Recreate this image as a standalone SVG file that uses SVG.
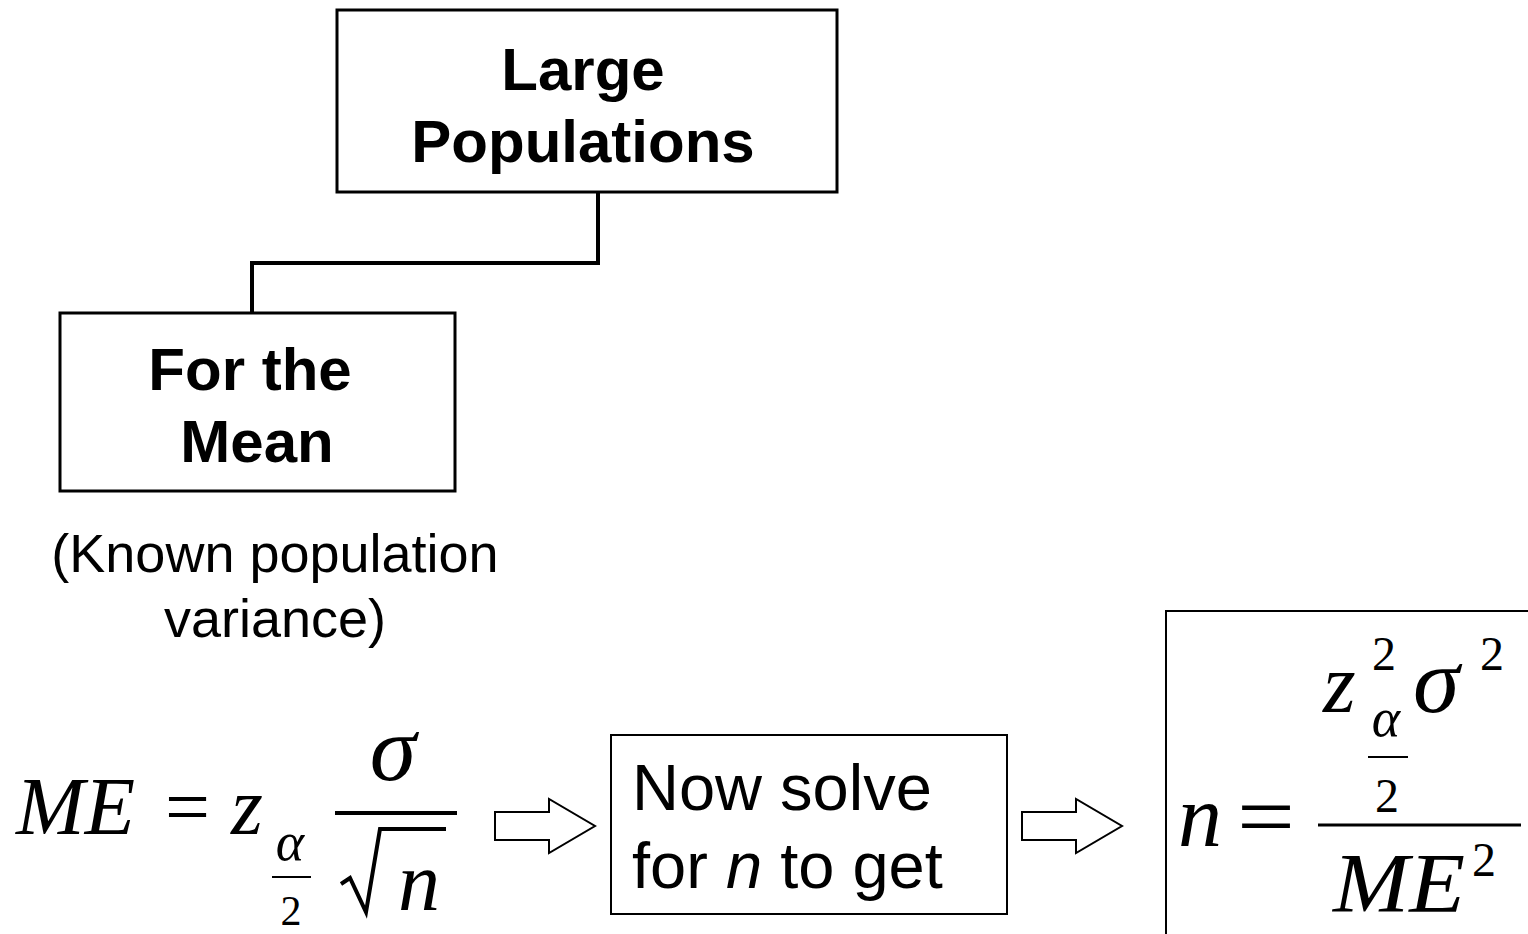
<svg xmlns="http://www.w3.org/2000/svg" width="1528" height="934" viewBox="0 0 1528 934">
<style>
.box{fill:#fff;stroke:#000;stroke-width:3}
.box2{fill:#fff;stroke:#000;stroke-width:2}
.hd{font-family:"Liberation Sans",Arial,sans-serif;font-weight:bold;font-size:60px;text-anchor:middle}
.tx{font-family:"Liberation Sans",Arial,sans-serif;font-size:54px;text-anchor:middle}
.ns{font-family:"Liberation Sans",Arial,sans-serif;font-size:65px}
.m{font-family:"Liberation Serif","Times New Roman",serif;font-style:italic}
.r{font-family:"Liberation Serif","Times New Roman",serif}
.ln{stroke:#000;fill:none}
.arr{fill:#fff;stroke:#000;stroke-width:2}
</style>
<g id="connectors">
<path d="M598 192 V263 H252 V313" class="ln" stroke-width="4"/>
<path class="arr" d="M495 812 H549 V799 L595 826 L549 853 V840 H495 Z"/>
<path class="arr" d="M1022 812 H1076 V799 L1122 826 L1076 853 V840 H1022 Z"/>
</g>
<g id="large-populations">
<rect class="box" x="337" y="10" width="500" height="182"/>
<text class="hd" x="583" y="90">Large</text>
<text class="hd" x="583" y="162">Populations</text>
</g>
<g id="for-the-mean">
<rect class="box" x="60" y="313" width="395" height="178"/>
<text class="hd" x="250" y="390">For the</text>
<text class="hd" x="257" y="462">Mean</text>
</g>
<g id="known-variance">
<text class="tx" x="275" y="572">(Known population</text>
<text class="tx" x="275" y="637">variance)</text>
</g>
<g id="me-formula">
<text class="m" x="16" y="834" font-size="82" textLength="119" lengthAdjust="spacingAndGlyphs">ME</text>
<text class="r" x="165" y="834" font-size="80" textLength="45" lengthAdjust="spacingAndGlyphs">=</text>
<text class="m" x="231" y="834" font-size="82">z</text>
<text class="m" x="290" y="860" font-size="54" text-anchor="middle">α</text>
<line class="ln" x1="272" y1="877" x2="311" y2="877" stroke-width="2"/>
<text class="r" x="291" y="925" font-size="42" text-anchor="middle">2</text>
<text class="m" x="393" y="780" font-size="94" text-anchor="middle">σ</text>
<line class="ln" x1="335" y1="813" x2="457" y2="813" stroke-width="4"/>
<path d="M341 884 L350 878 L366 912 L380 829 H446" class="ln" stroke-width="4"/>
<text class="m" x="398" y="910" font-size="84">n</text>
</g>
<g id="solve-box">
<rect class="box2" x="611" y="735" width="396" height="179"/>
<text class="ns" x="632" y="810">Now solve</text>
<text class="ns" x="632" y="888">for <tspan font-style="italic">n</tspan> to get</text>
</g>
<g id="n-formula">
<rect class="box2" x="1166" y="611" width="380" height="340"/>
<text class="m" x="1178" y="846" font-size="88">n</text>
<text class="r" x="1237" y="846" font-size="88" textLength="58" lengthAdjust="spacingAndGlyphs">=</text>
<line class="ln" x1="1318" y1="825" x2="1521" y2="825" stroke-width="3"/>
<text class="m" x="1323" y="712" font-size="84">z</text>
<text class="r" x="1384" y="670" font-size="48" text-anchor="middle">2</text>
<text class="m" x="1386" y="736" font-size="54" text-anchor="middle">α</text>
<line class="ln" x1="1368" y1="757" x2="1408" y2="757" stroke-width="2"/>
<text class="r" x="1387" y="812" font-size="48" text-anchor="middle">2</text>
<text class="m" x="1413" y="712" font-size="94">σ</text>
<text class="r" x="1492" y="670" font-size="48" text-anchor="middle">2</text>
<text class="m" x="1333" y="912" font-size="84" textLength="132" lengthAdjust="spacingAndGlyphs">ME</text>
<text class="r" x="1484" y="876" font-size="48" text-anchor="middle">2</text>
</g>
</svg>
